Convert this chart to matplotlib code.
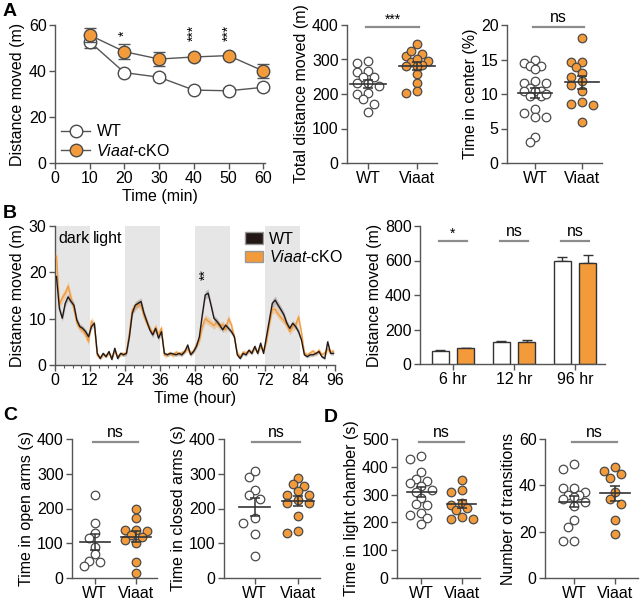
import numpy as np
import matplotlib
matplotlib.use('Agg')
import matplotlib.pyplot as plt
from matplotlib.patches import Patch
from matplotlib.lines import Line2D

plt.rcParams['font.family'] = ['Liberation Sans', 'DejaVu Sans']
plt.rcParams['mathtext.fontset'] = 'custom'
plt.rcParams['mathtext.rm'] = 'Liberation Sans'
plt.rcParams['mathtext.it'] = 'Liberation Sans:italic'
FS = 11.5
ORANGE = '#F39B3A'
EDGE = '#4a4a4a'
SPINE = '#555555'
KO_LABEL = '$\\it{Viaat}$-cKO'

# ---- Panel A: open field time course ----
a_time = [10, 20, 30, 40, 50, 60]
a_wt = [52.7, 39.3, 37.3, 31.7, 31.4, 32.9]
a_wt_err = [2.5, 1.2, 1.2, 1.0, 1.0, 1.0]
a_ko = [55.6, 48.4, 45.2, 46.1, 46.7, 40.0]
a_ko_err = [3.0, 3.2, 3.0, 1.2, 1.2, 3.0]
a_stars = {20: '*', 40: '***', 50: '***'}

total_wt = [296, 291, 265, 267, 249, 249, 233, 224, 233, 202, 200, 185, 172, 147]
total_ko = [344, 310, 326, 316, 296, 294, 284, 282, 258, 233, 210, 202, 300, 280]

center_wt = [14.9, 14.5, 14.1, 14.1, 13.6, 11.9, 11.6, 11.6, 10.9, 10.5, 10.4,
             10.5, 9.7, 9.7, 10.0, 7.8, 7.3, 6.7, 6.6, 3.8, 3.1]
center_ko = [18.1, 14.6, 14.6, 13.9, 13.0, 12.4, 11.9, 11.3, 10.4, 8.6, 8.9, 8.4, 6.0]

# ---- Panel B: 96 h home cage activity ----
b_hours = np.arange(96) + 0.5
b_wt = [19.1, 12.2, 10.1, 13.3, 14.7, 13.7, 12.9, 9.7, 8.3, 7.9, 7.2, 6.1,
        8.3, 9.0, 2.5, 1.4, 2.5, 1.8, 2.9, 1.2, 3.6, 1.4, 2.5, 2.2,
        2.5, 6.1, 11.2, 12.9, 13.3, 13.7, 11.2, 9.4, 7.6, 6.5, 7.9, 5.8,
        7.2, 2.5, 2.2, 2.5, 2.4, 2.2, 2.5, 2.2, 2.9, 4.3, 2.2, 2.9,
        4.0, 6.1, 10.8, 15.1, 15.5, 12.9, 10.1, 9.4, 8.6, 7.6, 8.6, 7.9,
        7.2, 6.1, 2.2, 1.4, 2.5, 2.2, 3.2, 2.5, 4.0, 2.5, 4.7, 2.5,
        6.1, 9.7, 13.3, 14.0, 12.9, 11.9, 10.8, 9.0, 7.9, 9.0, 8.3, 7.2,
        5.4, 2.2, 1.8, 2.2, 2.2, 2.5, 2.9, 1.8, 1.4, 5.0, 2.5, 2.5]
b_wt_sem = [1.0, 0.8, 0.7, 0.8, 0.8, 0.7, 0.7, 0.6, 0.6, 0.6, 0.6, 0.6,
            0.6, 0.6, 0.4, 0.3, 0.4, 0.3, 0.4, 0.3, 0.4, 0.3, 0.4, 0.4,
            0.4, 0.6, 0.7, 0.8, 0.8, 0.8, 0.7, 0.7, 0.6, 0.6, 0.6, 0.6,
            0.6, 0.4, 0.4, 0.4, 0.4, 0.4, 0.4, 0.4, 0.4, 0.5, 0.4, 0.4,
            0.5, 0.6, 0.8, 0.9, 0.9, 0.8, 0.7, 0.7, 0.6, 0.6, 0.6, 0.6,
            0.6, 0.6, 0.4, 0.3, 0.4, 0.4, 0.4, 0.4, 0.5, 0.4, 0.5, 0.4,
            0.6, 0.7, 0.8, 0.9, 0.8, 0.8, 0.7, 0.7, 0.6, 0.6, 0.6, 0.6,
            0.5, 0.4, 0.3, 0.4, 0.4, 0.4, 0.4, 0.3, 0.3, 0.5, 0.4, 0.4]
b_ko = [23.5, 13.0, 14.5, 15.5, 17.0, 14.5, 12.0, 9.0, 8.0, 7.5, 6.5, 5.0,
        9.5, 8.5, 2.0, 1.6, 2.2, 2.0, 2.6, 1.6, 3.0, 1.8, 2.4, 2.4,
        2.6, 7.0, 12.0, 12.5, 13.2, 12.8, 10.5, 9.0, 8.0, 6.8, 8.2, 6.5,
        8.0, 2.0, 2.2, 2.6, 2.0, 2.8, 2.4, 2.6, 3.0, 3.4, 2.6, 3.0,
        4.5, 5.2, 8.2, 10.0, 9.5, 9.0, 8.5, 9.2, 8.2, 8.8, 7.6, 10.0,
        8.6, 6.0, 2.6, 1.8, 2.8, 2.6, 3.0, 2.8, 3.8, 2.6, 4.0, 3.0,
        5.0, 8.8, 12.0, 12.0, 11.0, 10.2, 9.6, 8.6, 7.2, 8.2, 8.6, 10.4,
        7.0, 2.6, 2.2, 2.6, 3.0, 2.4, 3.2, 2.2, 2.6, 3.4, 2.8, 3.0]
b_ko_sem = [1.5, 1.0, 1.0, 1.0, 1.1, 1.0, 0.9, 0.8, 0.8, 0.8, 0.7, 0.7,
            0.9, 0.8, 0.5, 0.4, 0.5, 0.4, 0.5, 0.4, 0.5, 0.4, 0.5, 0.5,
            0.5, 0.8, 0.9, 0.9, 0.9, 0.9, 0.8, 0.8, 0.7, 0.7, 0.8, 0.7,
            0.8, 0.5, 0.5, 0.5, 0.5, 0.5, 0.5, 0.5, 0.5, 0.6, 0.5, 0.5,
            0.6, 0.7, 0.9, 0.9, 0.9, 0.8, 0.8, 0.9, 0.8, 0.8, 0.8, 0.9,
            0.8, 0.7, 0.5, 0.4, 0.5, 0.5, 0.5, 0.5, 0.6, 0.5, 0.6, 0.5,
            0.7, 0.9, 0.9, 0.9, 0.9, 0.8, 0.8, 0.8, 0.7, 0.8, 0.8, 0.9,
            0.8, 0.5, 0.4, 0.5, 0.5, 0.5, 0.5, 0.4, 0.5, 0.6, 0.5, 0.5]
dark_starts = [0, 24, 48, 72]

bar_groups = ['6 hr', '12 hr', '96 hr']
bar_wt = [77, 127, 596]
bar_wt_err = [4, 7, 22]
bar_ko = [92, 127, 587]
bar_ko_err = [3, 14, 44]
bar_sig = ['*', 'ns', 'ns']

# ---- Panel C: elevated plus maze ----
open_wt = [239, 158, 130, 115, 90, 68, 50, 46, 35]
open_ko = [200, 174, 138, 135, 138, 125, 118, 110, 102, 46, 14]
closed_wt = [290, 308, 253, 239, 227, 172, 159, 126, 63]
closed_ko = [287, 270, 266, 251, 239, 239, 224, 215, 215, 178, 130, 136]

# ---- Panel D: light/dark box ----
light_wt = [428, 440, 380, 355, 348, 341, 330, 318, 310, 287, 266, 262, 233, 228, 215, 194]
light_ko = [353, 317, 311, 269, 263, 251, 245, 218, 214, 214]
trans_wt = [49, 47, 39, 39, 37, 36, 36, 35, 34, 33, 31, 25, 22, 16, 16]
trans_ko = [48, 46, 45, 43, 37, 34, 32, 25, 19]

W, H = 640, 601
fig = plt.figure(figsize=(W / 100, H / 100), dpi=100)


def px_axes(l, t, r, b):
    return fig.add_axes([l / W, 1 - b / H, (r - l) / W, (b - t) / H])


def style(ax):
    for s in ['top', 'right']:
        ax.spines[s].set_visible(False)
    for s in ['left', 'bottom']:
        ax.spines[s].set_color(SPINE)
        ax.spines[s].set_linewidth(1.0)
    ax.tick_params(direction='out', length=4, width=1, color=SPINE,
                   labelsize=FS, pad=2)


def swarm(vals, ppu_x, ppu_y, diam=8.5):
    # compact beeswarm: at most ~1.3 marker widths either side
    vals = np.asarray(vals, float)
    offs = np.zeros(len(vals))
    placed = []
    cands = [0, -0.65, 0.65, -1.3, 1.3]
    for i in np.argsort(vals)[::-1]:
        y = vals[i] * ppu_y
        best, best_d = 0, -1
        for c in cands:
            x = c * diam
            d = min([np.hypot(x - px, y - py) for px, py in placed] or [1e9])
            if d >= diam * 0.85:
                best = x
                break
            if d > best_d:
                best, best_d = x, d
        placed.append((best, y))
        offs[i] = best / ppu_x
    return offs


def dot_plot(ax, wt, ko, xlim, ylim, yticks, ylabel, sig, sig_y, star=False):
    style(ax)
    ax.set_xlim(*xlim)
    ax.set_ylim(*ylim)
    bb = ax.get_window_extent()
    ppu_x = bb.width / (xlim[1] - xlim[0])
    ppu_y = bb.height / (ylim[1] - ylim[0])
    for i, (vals, fc) in enumerate([(wt, 'white'), (ko, ORANGE)]):
        off = swarm(vals, ppu_x, ppu_y)
        ax.scatter(i + off, vals, s=38, facecolor=fc, edgecolor=EDGE,
                   linewidth=0.9, zorder=3, clip_on=False)
        m = np.mean(vals)
        se = np.std(vals, ddof=1) / np.sqrt(len(vals))
        ax.plot([i - 0.36, i + 0.36], [m, m], color='#333333', lw=1.2, zorder=4)
        ax.errorbar(i, m, yerr=se, color='#333333', lw=1.1, capsize=3.5,
                    capthick=1.1, zorder=4)
    ax.plot([-0.05, 1.05], [sig_y, sig_y], color='#8c8c8c', lw=1.6, clip_on=False)
    ax.text(0.5, sig_y + (ylim[1] - ylim[0]) * (0.0 if star else 0.015), sig,
            ha='center', va='bottom', fontsize=FS - (1.5 if star else 0))
    ax.set_yticks(yticks)
    ax.set_xticks([0, 1])
    ax.set_xticklabels(['WT', 'Viaat'])
    ax.set_ylabel(ylabel, fontsize=FS, labelpad=2)


# ---------- A1 ----------
ax = px_axes(55, 25, 265, 163)
style(ax)
ax.errorbar(a_time, a_wt, yerr=a_wt_err, color='#555555', lw=1.0, capsize=4,
            marker='o', ms=9, mfc='white', mec=EDGE, mew=1.0, zorder=3, clip_on=False)
ax.errorbar(a_time, a_ko, yerr=a_ko_err, color='#555555', lw=1.0, capsize=4,
            marker='o', ms=9, mfc=ORANGE, mec=EDGE, mew=1.0, zorder=4, clip_on=False)
for t, s in a_stars.items():
    ax.text(t, 56.5, s, rotation=90, ha='center', va='center', fontsize=10)
ax.set_xlim(0, 60.5)
ax.set_ylim(0, 60)
ax.set_xticks(range(0, 61, 10))
ax.set_yticks([0, 20, 40, 60])
ax.set_xlabel('Time (min)', fontsize=FS, labelpad=2)
ax.set_ylabel('Distance moved (m)', fontsize=FS, labelpad=3)
hl = [Line2D([], [], color='#555555', lw=1.0, marker='o', ms=9, mfc='white', mec=EDGE),
      Line2D([], [], color='#555555', lw=1.0, marker='o', ms=9, mfc=ORANGE, mec=EDGE)]
ax.legend(hl, ['WT', KO_LABEL], loc='upper left', bbox_to_anchor=(0.03, 0.28),
          frameon=False, fontsize=FS, handlelength=1.8, handletextpad=0.4,
          borderpad=0, borderaxespad=0, labelspacing=0.2)

# ---------- A2, A3 ----------
dot_plot(px_axes(347, 25, 437, 163), total_wt, total_ko, (-0.43, 1.41), (0, 400),
         [0, 100, 200, 300, 400], 'Total distance moved (m)', '***', 395, star=True)
dot_plot(px_axes(507, 25, 602, 163), center_wt, center_ko, (-0.6, 1.43), (0, 20),
         [0, 5, 10, 15, 20], 'Time in center (%)', 'ns', 19.7)

# ---------- B1 ----------
ax = px_axes(55, 226, 335, 365)
style(ax)
for d in dark_starts:
    ax.axvspan(d, d + 12, color='#e6e6e6', lw=0, zorder=0)
wt_arr, ko_arr = np.array(b_wt), np.array(b_ko)
ax.fill_between(b_hours, ko_arr - b_ko_sem, ko_arr + b_ko_sem, color=ORANGE,
                alpha=0.35, lw=0, zorder=1)
ax.fill_between(b_hours, wt_arr - b_wt_sem, wt_arr + b_wt_sem, color='#8a8a8a',
                alpha=0.45, lw=0, zorder=2)
ax.plot(b_hours, ko_arr, color=ORANGE, lw=1.0, zorder=3)
ax.plot(b_hours, wt_arr, color='#231815', lw=1.0, zorder=4)
ax.text(1.2, 27.3, 'dark', fontsize=FS, va='center')
ax.text(13.0, 27.3, 'light', fontsize=FS, va='center')
ax.text(51.5, 19.5, '**', rotation=90, ha='center', va='center', fontsize=10)
ax.set_xlim(0, 96)
ax.set_ylim(0, 30)
ax.set_xticks(range(0, 97, 12))
ax.set_xticks(range(0, 97, 3), minor=True)
ax.tick_params(which='minor', length=2.5, width=0.8, color=SPINE)
ax.set_yticks([0, 10, 20, 30])
ax.set_xlabel('Time (hour)', fontsize=FS, labelpad=2)
ax.set_ylabel('Distance moved (m)', fontsize=FS, labelpad=3)
hp = [Patch(facecolor='#231815', edgecolor='#999999'),
      Patch(facecolor=ORANGE, edgecolor='#999999')]
ax.legend(hp, ['WT', KO_LABEL], loc='upper left', bbox_to_anchor=(0.68, 0.96),
          frameon=False, fontsize=FS, handlelength=1.1, handleheight=0.75,
          handletextpad=0.35, borderpad=0, borderaxespad=0, labelspacing=0.15)

# ---------- B2 ----------
ax = px_axes(420, 226, 605, 364)
style(ax)
xg = np.arange(len(bar_groups))
bw, bo = 0.28, 0.21
ax.bar(xg - bo, bar_wt, bw, facecolor='white', edgecolor='#333333', lw=1.0, zorder=2)
ax.bar(xg + bo, bar_ko, bw, facecolor=ORANGE, edgecolor='#333333', lw=1.0, zorder=2)
ax.errorbar(xg - bo, bar_wt, yerr=[[0] * 3, bar_wt_err], fmt='none',
            ecolor='#333333', lw=1.0, capsize=3.5, zorder=1)
ax.errorbar(xg + bo, bar_ko, yerr=[[0] * 3, bar_ko_err], fmt='none',
            ecolor='#333333', lw=1.0, capsize=3.5, zorder=1)
for x, s in zip(xg, bar_sig):
    ax.plot([x - bo - 0.02, x + bo + 0.02], [713, 713], color='#8c8c8c', lw=1.6)
    ax.text(x, 713 + (0 if s == '*' else 12), s, ha='center', va='bottom',
            fontsize=FS - (1.5 if s == '*' else 0))
ax.set_xlim(-0.54, 2.49)
ax.set_ylim(0, 800)
ax.set_xticks(xg)
ax.set_xticklabels(bar_groups)
ax.set_yticks([0, 200, 400, 600, 800])
ax.set_ylabel('Distance moved (m)', fontsize=FS, labelpad=2)

# ---------- C ----------
dot_plot(px_axes(72, 439, 157, 578), open_wt, open_ko, (-0.55, 1.5), (0, 400),
         [0, 100, 200, 300, 400], 'Time in open arms (s)', 'ns', 391)
dot_plot(px_axes(224, 439, 320, 578), closed_wt, closed_ko, (-0.7, 1.5), (0, 400),
         [0, 100, 200, 300, 400], 'Time in closed arms (s)', 'ns', 391)

# ---------- D ----------
dot_plot(px_axes(397, 439, 480, 578), light_wt, light_ko, (-0.6, 1.45), (0, 500),
         [0, 100, 200, 300, 400, 500], 'Time in light chamber (s)', 'ns', 490)
dot_plot(px_axes(545, 439, 638, 578), trans_wt, trans_ko, (-0.7, 1.55), (0, 60),
         [0, 20, 40, 60], 'Number of transitions', 'ns', 58.8)

# panel letters
for letter, x, y in [('A', 3, 12), ('B', 3, 214), ('C', 3, 416), ('D', 324, 418)]:
    fig.text(x / W, 1 - y / H, letter, fontsize=14, fontweight='bold',
             ha='left', va='center')

fig.savefig('out.png', dpi=100)
